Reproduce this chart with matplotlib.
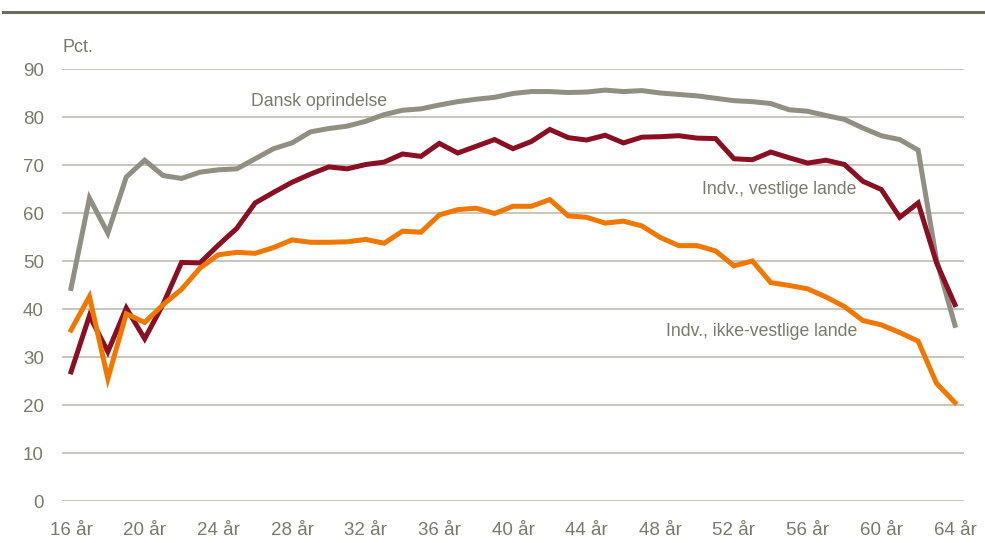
import matplotlib
matplotlib.use("Agg")
import matplotlib.pyplot as plt
from matplotlib.lines import Line2D

ages = list(range(16, 65))
dansk = [44.3, 63.1, 55.8, 67.5, 71.0, 67.8, 67.2, 68.5, 69.0, 69.2,
         71.3, 73.4, 74.6, 76.9, 77.6, 78.1, 79.1, 80.5, 81.4, 81.7,
         82.5, 83.2, 83.7, 84.1, 84.9, 85.3, 85.3, 85.1, 85.2, 85.6,
         85.3, 85.5, 85.0, 84.7, 84.4, 83.9, 83.4, 83.2, 82.8, 81.5,
         81.2, 80.3, 79.5, 77.7, 76.1, 75.3, 73.1, 50.2, 36.6]
vestlige = [26.9, 38.6, 31.1, 40.2, 33.8, 41.0, 49.7, 49.6, 53.3, 56.8,
            62.1, 64.3, 66.4, 68.1, 69.6, 69.2, 70.1, 70.6, 72.3, 71.8,
            74.5, 72.5, 73.9, 75.3, 73.4, 74.9, 77.4, 75.7, 75.2, 76.2,
            74.6, 75.8, 75.9, 76.1, 75.6, 75.5, 71.3, 71.1, 72.7, 71.5,
            70.4, 71.0, 70.1, 66.6, 64.9, 59.1, 62.1, 49.6, 40.9]
ikke_vestlige = [35.6, 42.6, 25.5, 39.0, 37.2, 40.9, 44.1, 48.5, 51.3, 51.8,
                 51.6, 52.8, 54.4, 53.9, 53.9, 54.0, 54.5, 53.7, 56.2, 56.0,
                 59.6, 60.7, 61.0, 59.9, 61.4, 61.4, 62.8, 59.4, 59.1, 57.9,
                 58.3, 57.3, 54.9, 53.2, 53.2, 52.1, 49.0, 50.0, 45.5, 44.9,
                 44.2, 42.5, 40.5, 37.6, 36.7, 35.1, 33.3, 24.5, 20.5]
tick_ages = list(range(16, 65, 4))
tick_labels = [f"{a} år" for a in tick_ages]
yticks = list(range(0, 91, 10))

GREY = "#918F82"
RED = "#8A0F23"
ORANGE = "#F07800"
TXT = "#7A7A6C"
GRID = "#BEBCB2"

plt.rcParams['font.family'] = ['Liberation Sans Narrow', 'Liberation Sans', 'DejaVu Sans']

fig = plt.figure(figsize=(9.85, 5.43), dpi=100)
ax = fig.add_axes([62/985, 1-501/543, (964-62)/985, (501-69)/543])

for y in yticks:
    ax.axhline(y, color=GRID, lw=1.2, zorder=1)

lw = 3.6
ax.plot(ages, dansk, color=GREY, lw=lw, zorder=3, solid_joinstyle='miter')
ax.plot(ages, vestlige, color=RED, lw=lw, zorder=4, solid_joinstyle='miter')
ax.plot(ages, ikke_vestlige, color=ORANGE, lw=lw, zorder=5, solid_joinstyle='miter')

ax.set_xlim(15.51, 64.49)
ax.set_ylim(0, 90)
ax.set_xticks(tick_ages)
ax.set_xticklabels(tick_labels)
ax.set_yticks(yticks)
ax.tick_params(axis='both', length=0, labelsize=13.5, colors=TXT)
ax.tick_params(axis='y', pad=13)
ax.tick_params(axis='x', pad=15)
for s in ax.spines.values():
    s.set_visible(False)

lab_fs = 12.7
fam = ['Liberation Sans', 'DejaVu Sans']
ax.text(33.16, 83.3, "Dansk oprindelse", color=TXT, fontsize=lab_fs, ha='right', va='center', family=fam)
ax.text(58.67, 64.9, "Indv., vestlige lande", color=TXT, fontsize=lab_fs, ha='right', va='center', family=fam)
ax.text(58.72, 35.4, "Indv., ikke-vestlige lande", color=TXT, fontsize=lab_fs, ha='right', va='center', family=fam)

fig.text(62/985, 1-47/543, "Pct.", color=TXT, fontsize=13, ha='left', va='center')

fig.add_artist(Line2D([3/985, 1.0], [1-12/543, 1-12/543], color="#6E6C5C", lw=2.2,
                      transform=fig.transFigure))

fig.savefig("out.png", dpi=100)
